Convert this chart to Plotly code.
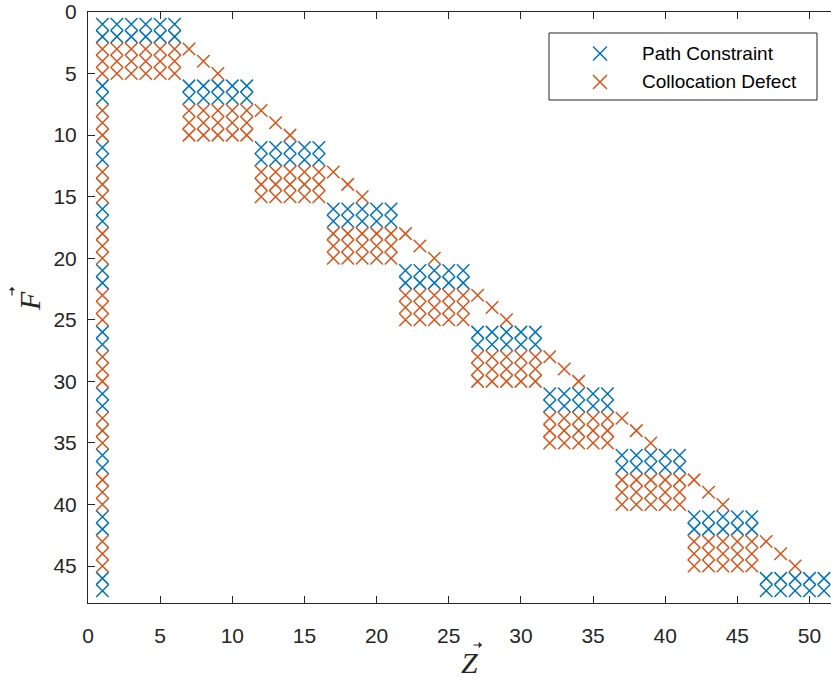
import plotly.graph_objects as go

# ---- structure of the sparsity pattern ----
n_rows = 47
n_cols = 51
shared_col = 1                                   # column used by every row
block_col_starts = [2, 7, 12, 17, 22, 27, 32, 37, 42, 47]
block_width = 5
path_row_starts = [1, 6, 11, 16, 21, 26, 31, 36, 41, 46]
path_rows_per_block = 2
defect_row_starts = [3, 8, 13, 18, 23, 28, 33, 38, 43]
defect_rows_per_block = 3

x_ticks = [0, 5, 10, 15, 20, 25, 30, 35, 40, 45, 50]
y_ticks = [0, 5, 10, 15, 20, 25, 30, 35, 40, 45]
series_names = ["Path Constraint", "Collocation Defect"]
colors = ["#0072BD", "#D95319"]

# build entries
path_x, path_y = [], []
for k, rs in enumerate(path_row_starts):
    cols = [shared_col] + list(range(block_col_starts[k], block_col_starts[k] + block_width))
    for r in range(rs, rs + path_rows_per_block):
        for c in cols:
            path_x.append(c)
            path_y.append(r)

def_x, def_y = [], []
for k, rs in enumerate(defect_row_starts):
    cols = [shared_col] + list(range(block_col_starts[k], block_col_starts[k] + block_width))
    for i, r in enumerate(range(rs, rs + defect_rows_per_block)):
        for c in cols + [block_col_starts[k + 1] + i]:
            def_x.append(c)
            def_y.append(r)

# ---- layout geometry (pixels) ----
W, H = 831, 678
L, T, B = 88, 12, 75
PW = W - L
PH = H - T - B

def px(x):
    return (x - L) / PW

def py(y):
    return (H - B - y) / PH

AX = "#262626"
marker_common = dict(symbol="x-thin", size=12.5)

fig = go.Figure()
fig.add_trace(go.Scatter(
    x=path_x, y=path_y, mode="markers", name=series_names[0], showlegend=False,
    marker=dict(**marker_common, color=colors[0], line=dict(color=colors[0], width=1.5)),
))
fig.add_trace(go.Scatter(
    x=def_x, y=def_y, mode="markers", name=series_names[1], showlegend=False,
    marker=dict(**marker_common, color=colors[1], line=dict(color=colors[1], width=1.5)),
))

# legend symbols on a pixel-coordinate overlay
for i, (nm, col) in enumerate(zip(series_names, colors)):
    ly = [53.5, 82][i]
    fig.add_trace(go.Scatter(
        x=[600], y=[ly], xaxis="x2", yaxis="y2", mode="markers", showlegend=False,
        hoverinfo="skip", cliponaxis=False,
        marker=dict(symbol="x-thin", size=14, color=col, line=dict(color=col, width=1.5)),
    ))

x_max = PW / 14.43
fig.update_layout(
    width=W, height=H,
    margin=dict(l=L, r=0, t=T, b=B, pad=0),
    paper_bgcolor="white", plot_bgcolor="white",
    showlegend=False,
    font=dict(family="Liberation Sans, Arial, sans-serif", color=AX),
    xaxis=dict(
        range=[0, x_max], tickvals=x_ticks, ticktext=[str(v) for v in x_ticks],
        ticks="inside", ticklen=7, tickwidth=1, tickcolor=AX,
        showline=True, linecolor=AX, linewidth=1, mirror="ticks",
        showgrid=False, zeroline=False,
        tickfont=dict(size=21, color=AX, family="Liberation Sans, Arial, sans-serif"),
        ticklabelstandoff=14,
    ),
    yaxis=dict(
        range=[48, 0], tickvals=y_ticks, ticktext=[str(v) for v in y_ticks],
        ticks="inside", ticklen=7, tickwidth=1, tickcolor=AX,
        showline=True, linecolor=AX, linewidth=1, mirror=False,
        showgrid=False, zeroline=False,
        tickfont=dict(size=21, color=AX, family="Liberation Sans, Arial, sans-serif"),
        ticklabelstandoff=6,
    ),
    xaxis2=dict(overlaying="x", range=[L, W], visible=False, fixedrange=True),
    yaxis2=dict(overlaying="y", range=[H - B, T], visible=False, fixedrange=True),
    shapes=[dict(type="rect", xref="paper", yref="paper",
                 x0=px(549), x1=px(817), y0=py(100), y1=py(33),
                 line=dict(color=AX, width=1), fillcolor="rgba(255,255,255,0)",
                 layer="above")],
)

ann = []
for i, nm in enumerate(series_names):
    ly = [53.5, 82][i]
    ann.append(dict(text=nm, x=px(640), y=py(ly), xref="paper", yref="paper",
                    xanchor="left", yanchor="middle", showarrow=False,
                    font=dict(size=19, color="black", family="Liberation Sans, Arial, sans-serif")))
# axis titles (vector notation)
ann.append(dict(text="<i>Z</i>", x=px(469), y=py(662), xref="paper", yref="paper",
                xanchor="center", yanchor="middle", showarrow=False,
                font=dict(size=30, color=AX, family="Liberation Serif, Times New Roman, serif")))
ann.append(dict(text="<i>F</i>", x=px(29), y=py(301), xref="paper", yref="paper",
                xanchor="center", yanchor="middle", showarrow=False, textangle=-90,
                font=dict(size=30, color=AX, family="Liberation Serif, Times New Roman, serif")))
# vector arrows drawn as annotation arrows (no text)
ann.append(dict(text="", x=px(482), y=py(645), xref="paper", yref="paper",
                showarrow=True, ax=-10, ay=0, arrowhead=1, arrowsize=0.9,
                arrowwidth=1.2, arrowcolor=AX, standoff=0, startstandoff=0))
ann.append(dict(text="", x=px(12), y=py(287), xref="paper", yref="paper",
                showarrow=True, ax=0, ay=10, arrowhead=1, arrowsize=0.9,
                arrowwidth=1.2, arrowcolor=AX, standoff=0, startstandoff=0))
fig.update_layout(annotations=ann)

fig.write_html("out.html")
